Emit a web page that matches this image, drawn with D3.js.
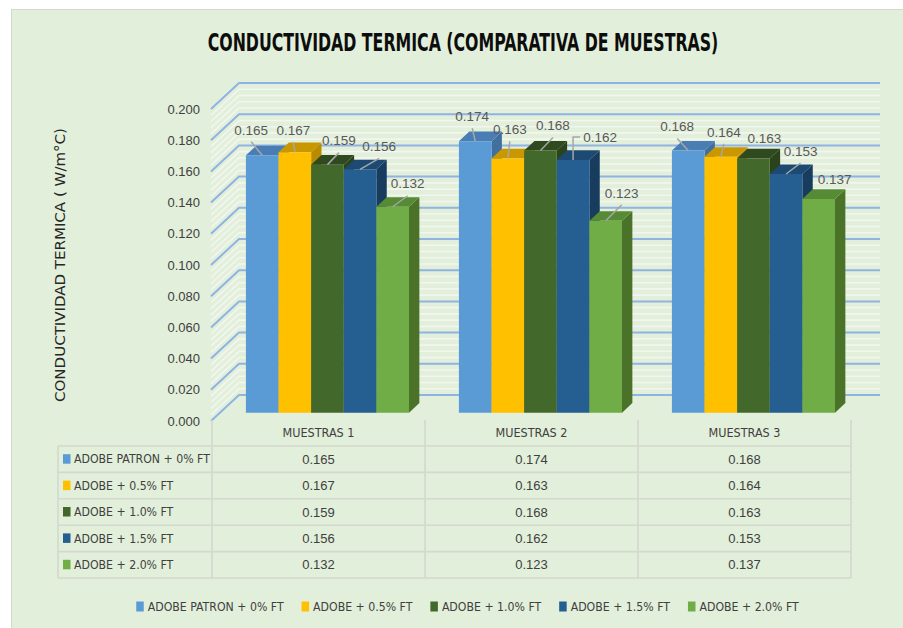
<!DOCTYPE html>
<html>
<head>
<meta charset="utf-8">
<script src="https://cdn.jsdelivr.net/npm/d3@7"></script>
<style>
  html, body { margin: 0; padding: 0; background: #ffffff; }
  svg { display: block; }
  .narrow { font-family: "Liberation Sans Narrow", "Arial Narrow", "DejaVu Sans Condensed", sans-serif; }
  .num { font-family: "Liberation Sans", Arial, sans-serif; }
</style>
</head>
<body>
<svg id="chart" width="903" height="628"></svg>
<script>
// ---- data ----
const categories = ["MUESTRAS 1", "MUESTRAS 2", "MUESTRAS 3"];
const seriesNames = ["ADOBE PATRON + 0% FT", "ADOBE + 0.5% FT", "ADOBE + 1.0% FT", "ADOBE + 1.5% FT", "ADOBE + 2.0% FT"];
const patron0 = [0.165, 0.174, 0.168];
const ft05 = [0.167, 0.163, 0.164];
const ft10 = [0.159, 0.168, 0.163];
const ft15 = [0.156, 0.162, 0.153];
const ft20 = [0.132, 0.123, 0.137];
const yTicks = [0, 0.02, 0.04, 0.06, 0.08, 0.10, 0.12, 0.14, 0.16, 0.18, 0.20];
const titleText = "CONDUCTIVIDAD TERMICA (COMPARATIVA DE MUESTRAS)";
const yTitleText = "CONDUCTIVIDAD TERMICA ( W/m°C)";

const seriesValues = [patron0, ft05, ft10, ft15, ft20];

// ---- styling ----
const faceColors = [
  { front: "#5b9bd5", top: "#4a7db3", side: "#41709f" },
  { front: "#ffc000", top: "#c99700", side: "#b98b00" },
  { front: "#43682b", top: "#2f4a1e", side: "#2b431b" },
  { front: "#255e91", top: "#1d4a73", side: "#173c5e" },
  { front: "#70ad47", top: "#568a34", side: "#4a7329" }
];

// label offsets from the top-front centre of each bar: [dx, dy, leader]
const labelNudge = [
  [[-11, -25.5, "line"], [-3, -25, "line"], [-11, -24, "line"]],
  [[-1.5, -22, "line"], [2, -29, "line"], [3, -25, "line"]],
  [[11.5, -24, "line"], [12.5, -25, "line"], [11, -20, "none"]],
  [[19, -23, "line"], [27, -23, "elbow"], [14.5, -23, "line"]],
  [[15, -23, "line"], [16, -28, "line"], [16, -20, "none"]]
];

const svg = d3.select("#chart");

// chart area background
svg.append("rect")
  .attr("x", 11.5).attr("y", 9.5).attr("width", 892).attr("height", 620)
  .attr("fill", "#e2efda").attr("stroke", "#d3d8cf").attr("stroke-width", 1);

// ---- scales & projection ----
const x = d3.scaleBand().domain(categories).range([212, 851]);
const xs = d3.scaleBand().domain(seriesNames).range([0, x.bandwidth()]).paddingInner(0).paddingOuter(0.765);
const y = d3.scaleLinear().domain([0, 0.2]).range([421, 109]);
const DX = 28, DY = 26;          // full depth of the plot box
const wallRight = 880;
const z0 = 0.32, z1 = 0.69;      // bar depth inside the box
const proj = (px, v, z) => [px + z * DX, y(v) - z * DY];

// squeeze a text horizontally about its anchor point so it spans `width`
function fitWidth(sel, width, ax, ay) {
  const w = sel.node().getComputedTextLength();
  const k = width / w;
  sel.attr("transform", `translate(${ax},${ay}) scale(${k},1) translate(${-ax},${-ay})`);
}

// ---- walls ----
const wall = svg.append("g");
const minorVals = d3.range(0, 0.2001, 0.004).filter(v => Math.abs(v / 0.02 - Math.round(v / 0.02)) > 1e-6);
const wallPath = v => {
  const a = proj(211, v, 0), b = proj(211, v, 1);
  return `M${a[0]},${a[1]}L${b[0]},${b[1]}L${wallRight},${b[1]}`;
};
wall.selectAll("path.minor").data(minorVals).join("path")
  .attr("class", "minor")
  .attr("d", wallPath)
  .attr("fill", "none").attr("stroke", "#f2f6ef").attr("stroke-width", 1.6);
wall.selectAll("path.major").data(yTicks).join("path")
  .attr("class", "major")
  .attr("d", wallPath)
  .attr("fill", "none").attr("stroke", "#8fb4e3").attr("stroke-width", 2);

// ---- y axis ----
const yAxis = svg.append("g")
  .attr("transform", "translate(211,0)")
  .call(d3.axisLeft(y).tickValues(yTicks).tickFormat(d3.format(".3f")).tickSize(0).tickPadding(11));
yAxis.select(".domain").remove();
yAxis.selectAll("text")
  .attr("class", "num")
  .attr("font-size", 13).attr("fill", "#404040");

const yTitle = svg.append("g").attr("transform", "translate(65,265) rotate(-90)")
  .append("text")
  .attr("class", "narrow")
  .attr("x", 0).attr("y", 0)
  .attr("text-anchor", "middle")
  .attr("font-size", 14).attr("fill", "#262626")
  .text(yTitleText);
fitWidth(yTitle, 274, 0, 0);

// ---- title ----
const title = svg.append("text")
  .attr("class", "narrow")
  .attr("x", 463).attr("y", 51)
  .attr("text-anchor", "middle")
  .attr("font-size", 25).attr("font-weight", "bold").attr("fill", "#0d0d0d")
  .text(titleText);
fitWidth(title, 511, 463, 51);

// ---- bars ----
const bars = svg.append("g");
const poly = pts => pts.map(p => p.join(",")).join(" ");
categories.forEach((cat, ci) => {
  seriesNames.forEach((s, si) => {
    const v = seriesValues[si][ci];
    const xl = x(cat) + xs(s), xr = xl + xs.bandwidth();
    const c = faceColors[si];
    bars.append("polygon")
      .attr("points", poly([proj(xr, v, z0), proj(xr, v, z1), proj(xr, 0, z1), proj(xr, 0, z0)]))
      .attr("fill", c.side);
    bars.append("polygon")
      .attr("points", poly([proj(xl, v, z0), proj(xr, v, z0), proj(xr, v, z1), proj(xl, v, z1)]))
      .attr("fill", c.top);
    bars.append("polygon")
      .attr("points", poly([proj(xl, v, z0), proj(xr, v, z0), proj(xr, 0, z0), proj(xl, 0, z0)]))
      .attr("fill", c.front);
  });
});

// ---- data labels with leader lines ----
const labels = svg.append("g");
categories.forEach((cat, ci) => {
  seriesNames.forEach((s, si) => {
    const v = seriesValues[si][ci];
    const xl = x(cat) + xs(s);
    const top = proj(xl + xs.bandwidth() / 2, v, z0);
    const [dx, dy, kind] = labelNudge[si][ci];
    const lx = top[0] + dx, ly = top[1] + dy;
    if (kind === "line") {
      labels.append("line")
        .attr("x1", lx).attr("y1", ly + 12).attr("x2", top[0]).attr("y2", top[1])
        .attr("stroke", "#a6a6a6").attr("stroke-width", 1.5);
    } else if (kind === "elbow") {
      labels.append("path")
        .attr("d", `M${lx - 20},${ly}L${top[0]},${ly}L${top[0]},${top[1]}`)
        .attr("fill", "none").attr("stroke", "#a6a6a6").attr("stroke-width", 1.5);
    }
    labels.append("text")
      .attr("class", "num")
      .attr("x", lx).attr("y", ly)
      .attr("dy", "0.35em")
      .attr("text-anchor", "middle")
      .attr("font-size", 13.5).attr("fill", "#595959")
      .text(d3.format(".3f")(v));
  });
});

// ---- data table ----
const table = svg.append("g");
const rowTop = 446, rowH = 26.4;
const tableLeft = 58, tableRight = 851;
const lineColor = "#d3d9cd";
const colEdges = [x.range()[0]].concat(categories.map(c => x(c) + x.bandwidth()));
colEdges.forEach(cx => {
  table.append("line")
    .attr("x1", cx).attr("x2", cx).attr("y1", 420).attr("y2", rowTop + rowH * seriesNames.length)
    .attr("stroke", lineColor).attr("stroke-width", 1.6);
});
table.append("line")
  .attr("x1", tableLeft).attr("x2", tableLeft).attr("y1", rowTop).attr("y2", rowTop + rowH * seriesNames.length)
  .attr("stroke", lineColor).attr("stroke-width", 1.6);
d3.range(seriesNames.length + 1).forEach(i => {
  table.append("line")
    .attr("x1", tableLeft).attr("x2", tableRight)
    .attr("y1", rowTop + i * rowH).attr("y2", rowTop + i * rowH)
    .attr("stroke", lineColor).attr("stroke-width", 1.6);
});
categories.forEach(cat => {
  table.append("text")
    .attr("class", "narrow")
    .attr("x", x(cat) + x.bandwidth() / 2).attr("y", 433)
    .attr("dy", "0.35em").attr("text-anchor", "middle")
    .attr("font-size", 12.5).attr("fill", "#404040")
    .text(cat);
});
seriesNames.forEach((s, si) => {
  const cy = rowTop + si * rowH + rowH / 2;
  table.append("rect")
    .attr("x", 63).attr("y", cy - 5).attr("width", 7.5).attr("height", 9.5)
    .attr("fill", faceColors[si].front);
  table.append("text")
    .attr("class", "narrow")
    .attr("x", 74).attr("y", cy)
    .attr("dy", "0.35em")
    .attr("font-size", 12.2).attr("fill", "#404040")
    .text(s);
  categories.forEach((cat, ci) => {
    table.append("text")
      .attr("class", "num")
      .attr("x", x(cat) + x.bandwidth() / 2).attr("y", cy)
      .attr("dy", "0.35em").attr("text-anchor", "middle")
      .attr("font-size", 13).attr("fill", "#404040")
      .text(d3.format(".3f")(seriesValues[si][ci]));
  });
});

// ---- legend ----
const legend = svg.append("g");
const items = seriesNames.map((s, si) => {
  const g = legend.append("g");
  g.append("rect").attr("x", 0).attr("y", -5).attr("width", 7.5).attr("height", 10)
    .attr("fill", faceColors[si].front);
  const t = g.append("text")
    .attr("class", "narrow")
    .attr("x", 11.5).attr("y", 0).attr("dy", "0.35em")
    .attr("font-size", 12.2).attr("fill", "#404040")
    .text(s);
  return { g, w: 11.5 + t.node().getComputedTextLength() };
});
const gap = 18;
const total = d3.sum(items, d => d.w) + gap * (items.length - 1);
let cursor = 467.5 - total / 2;
items.forEach(it => {
  it.g.attr("transform", `translate(${cursor},606.5)`);
  cursor += it.w + gap;
});
</script>
</body>
</html>
